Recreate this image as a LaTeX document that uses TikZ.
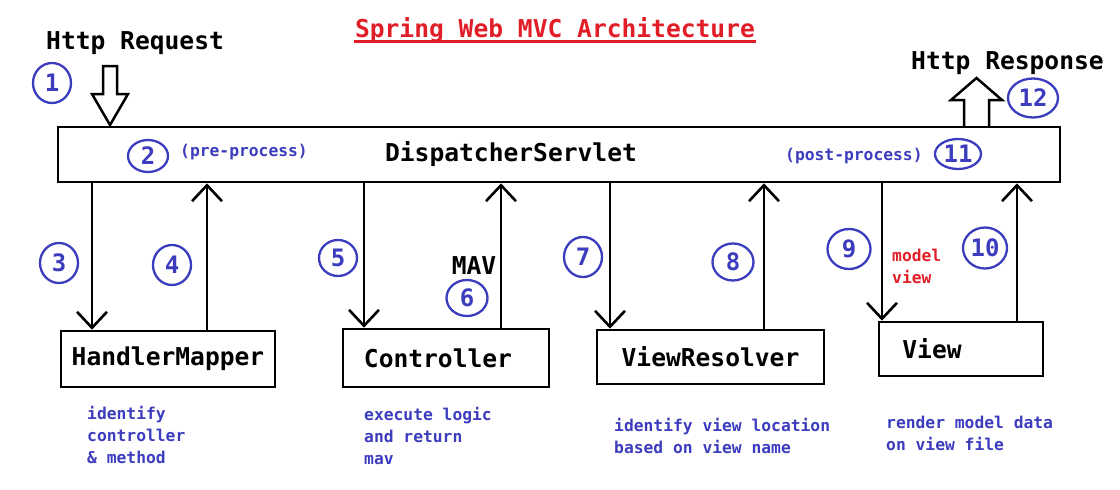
\documentclass[tikz,border=0pt]{standalone}
\usepackage{fontspec}
\setmonofont{DejaVu Sans Mono}
\usetikzlibrary{positioning,calc,arrows.meta,shapes.geometric}

\definecolor{numblue}{RGB}{60,60,190}
\definecolor{titlered}{RGB}{225,30,40}

\begin{document}
\begin{tikzpicture}[x=1pt, y=-1pt]
	\useasboundingbox (0,0) rectangle (1120,490);
	\begin{scope}
		\tikzstyle{every node}=[inner sep=1pt, font=\ttfamily\bfseries\fontsize{24.6}{28}\selectfont]
		\tikzstyle{box}=[draw, line width=2.6pt, inner sep=0pt]
		\tikzstyle{num}=[draw=numblue, text=numblue, ellipse, line width=2.3pt, inner sep=0pt,
			minimum width=38pt, minimum height=40pt, font=\ttfamily\bfseries\fontsize{24}{26}\selectfont]
		\tikzstyle{note}=[text=numblue, align=left, anchor=north west, inner sep=0pt,
			font=\ttfamily\bfseries\fontsize{16.3}{22}\selectfont]
		\tikzstyle{flow}=[line width=2.6pt, -{Straight Barb[length=16pt, width=30pt]}]
		\tikzstyle{block}=[draw, line width=2.5pt, line join=miter]

		% title
		\node[text=titlered, anchor=base] (title) at (555,37) {Spring Web MVC Architecture};
		\draw [titlered, line width=2.6pt] ($(title.base west)+(0,4.5)$) -- ($(title.base east)+(0,4.5)$);

		\node[anchor=base west] (req) at (45,49) {Http Request};
		\node[anchor=base west] (resp) at (910,69) {Http Response};

		% boxes
		\node[box, minimum width=1002pt, minimum height=55pt,
			label={[xshift=-48pt]center:DispatcherServlet}] (ds) at (559,154.5) {};
		\node[box, minimum width=214pt, minimum height=56pt] (hm) at (168,359) {HandlerMapper};
		\node[box, minimum width=206pt, minimum height=58pt,
			label={[xshift=-8pt]center:Controller}] (ct) at (446,358) {};
		\node[box, minimum width=227pt, minimum height=54pt] (vr) at (710.5,357) {ViewResolver};
		\node[box, minimum width=164pt, minimum height=54pt,
			label={[xshift=-29pt]center:View}] (vw) at (961,349) {};

		% request / response
		\coordinate (reqtip) at (110,125);
		\coordinate (respbase) at (976.5,127);
		\draw [block] (reqtip) -- ++(-18,-31) -- ++(11,0) -- ++(0,-28) -- ++(14,0)
			-- ++(0,28) -- ++(11,0) -- cycle;
		\draw [block] ($(respbase)+(-12.5,0)$) -- ++(0,-27) -- ++(-13,0) -- ++(25.5,-22)
			-- ++(25.5,22) -- ++(-13,0) -- ++(0,27);

		% flows
		\coordinate (a3) at (92,0);
		\coordinate (a4) at (207,0);
		\coordinate (a5) at (364,0);
		\coordinate (a6) at (501,0);
		\coordinate (a7) at (610,0);
		\coordinate (a8) at (764,0);
		\coordinate (a9) at (882,0);
		\coordinate (a10) at (1017,0);

		\draw [flow] (a3 |- ds.south) to (a3 |- hm.north);
		\draw [flow] (a4 |- hm.north) to (a4 |- ds.south);
		\draw [flow] (a5 |- ds.south) to (a5 |- ct.north);
		\draw [flow] (a6 |- ct.north) to (a6 |- ds.south);
		\draw [flow] (a7 |- ds.south) to (a7 |- vr.north);
		\draw [flow] (a8 |- vr.north) to (a8 |- ds.south);
		\draw [flow] (a9 |- ds.south) to (a9 |- vw.north);
		\draw [flow] (a10 |- vw.north) to (a10 |- ds.south);

		% steps
		\node[num] (n1) at (52,83) {1};
		\node[num, minimum width=40pt, minimum height=32pt] (n2) at (148,156) {2};
		\node[num] (n3) at (59,263) {3};
		\node[num] (n4) at (172,265) {4};
		\node[num, minimum height=36pt] (n5) at (338,258) {5};
		\node[num, minimum width=41pt, minimum height=36pt] (n6) at (467,298) {6};
		\node[num] (n7) at (583,257) {7};
		\node[num, minimum width=41pt, minimum height=37pt] (n8) at (733,262) {8};
		\node[num, minimum width=43pt] (n9) at (849,249) {9};
		\node[num, minimum width=44pt, minimum height=41pt] (n10) at (985,248) {10};
		\node[num, minimum width=46pt, minimum height=30pt] (n11) at (958,154) {11};
		\node[num, minimum width=50pt, minimum height=39pt] (n12) at (1033,98) {12};

		% labels
		\node (mav) at (474,266) {MAV};
		\node[note, anchor=base west] (pre) at (180,156) {(pre-process)};
		\node[note, anchor=base west] (post) at (785,160) {(post-process)};
		\node[note, text=titlered] (mv) at (892,249) {model\\view};

		\node[note] (hmnote) at (87,406) {identify\\controller\\\& method};
		\node[note] (ctnote) at (364,407) {execute logic\\and return\\mav};
		\node[note] (vrnote) at (614,418) {identify view location\\based on view name};
		\node[note] (vwnote) at (886,416) {render model data\\on view file};
	\end{scope}
\end{tikzpicture}
\end{document}
